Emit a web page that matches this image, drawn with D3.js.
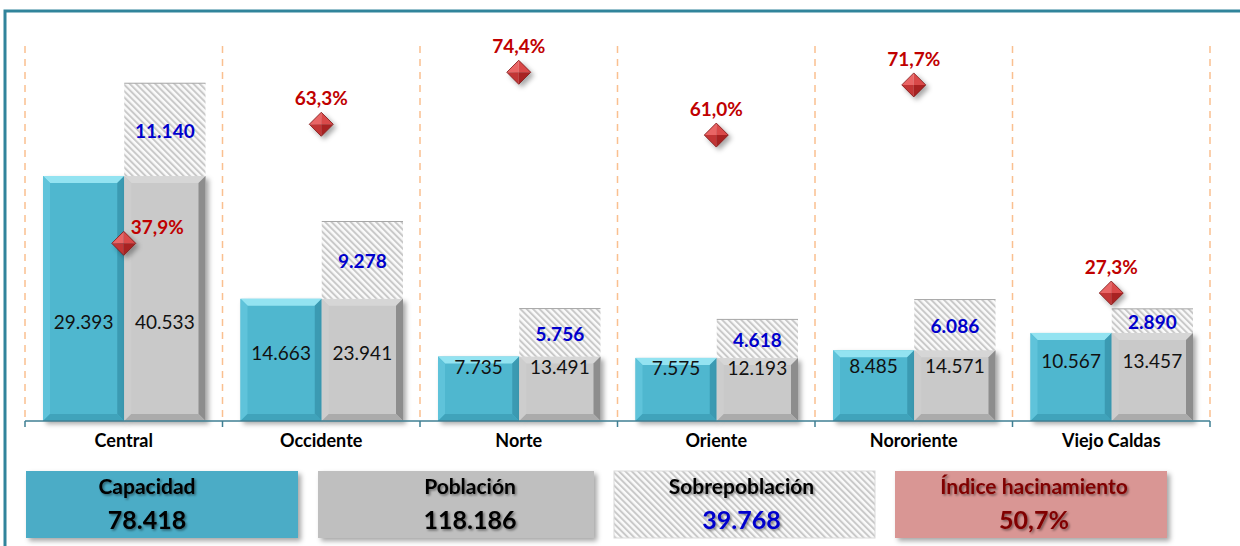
<!DOCTYPE html>
<html>
<head>
<meta charset="utf-8">
<script src="https://cdn.jsdelivr.net/npm/d3@7"></script>
<style>
  html, body { margin: 0; padding: 0; background: #fff; }
  svg { display: block; font-family: Lato, "Open Sans", sans-serif; }
</style>
</head>
<body>
<svg id="chart" width="1240" height="546"></svg>
<script>
var categories     = ['Central', 'Occidente', 'Norte', 'Oriente', 'Nororiente', 'Viejo Caldas'];
var capacidad      = [29393, 14663, 7735, 7575, 8485, 10567];
var poblacion      = [40533, 23941, 13491, 12193, 14571, 13457];
var sobrepoblacion = [11140, 9278, 5756, 4618, 6086, 2890];
var hacinamiento   = [37.9, 63.3, 74.4, 61.0, 71.7, 27.3];

var es = d3.formatLocale({decimal: ',', thousands: '.', grouping: [3], currency: ['', '']});
var fmtN = es.format(',d');
var fmtP = function(v) { return es.format('.1f')(v) + '%'; };

var svg = d3.select('#chart');
var defs = svg.append('defs');

var hatch = defs.append('pattern')
  .attr('id', 'hatch').attr('patternUnits', 'userSpaceOnUse')
  .attr('width', 4.5).attr('height', 4.5)
  .attr('patternTransform', 'rotate(-45)');
hatch.append('rect').attr('width', 4.5).attr('height', 4.5).attr('fill', '#fafafa');
hatch.append('rect').attr('width', 2).attr('height', 4.5).attr('fill', '#c9c9c9');

var sh = defs.append('filter').attr('id', 'shadow')
  .attr('x', '-20%').attr('y', '-20%').attr('width', '150%').attr('height', '150%');
sh.append('feDropShadow').attr('dx', 3).attr('dy', 3).attr('stdDeviation', 2.5)
  .attr('flood-color', '#000').attr('flood-opacity', 0.35);

var tsh = defs.append('filter').attr('id', 'tshadow')
  .attr('x', '-10%').attr('y', '-30%').attr('width', '130%').attr('height', '170%');
tsh.append('feDropShadow').attr('dx', 1.5).attr('dy', 1.5).attr('stdDeviation', 1.2)
  .attr('flood-color', '#000').attr('flood-opacity', 0.45);

// frame
svg.append('path').attr('d', 'M5,546 V11 H1240')
  .attr('fill', 'none').attr('stroke', '#31849b').attr('stroke-width', 3);

var x = d3.scaleBand().domain(categories).range([25, 1210]);
var inner = d3.scaleBand().domain(['cap', 'pob']).range([18, x.bandwidth() - 17]);
var y = d3.scaleLinear().domain([0, 45000]).range([421, 46]);
var y2 = d3.scaleLinear().domain([0, 80]).range([421, 46]);

// dashed separators
var bounds = categories.map(function(c) { return x(c); }).concat([x.range()[1]]);
svg.append('g').selectAll('line').data(bounds).enter().append('line')
  .attr('x1', function(d) { return d; }).attr('x2', function(d) { return d; })
  .attr('y1', y.range()[1]).attr('y2', y(0))
  .attr('stroke', '#fac090').attr('stroke-width', 1.5).attr('stroke-dasharray', '7,6');

function bevelBar(g, bx, by, bw, bh, c) {
  var b = Math.min(7, bh / 2);
  var grp = g.append('g').attr('filter', 'url(#shadow)');
  grp.append('rect').attr('x', bx).attr('y', by).attr('width', bw).attr('height', bh).attr('fill', c.base);
  var pts = [
    [[bx, by], [bx + bw, by], [bx + bw - b, by + b], [bx + b, by + b], c.top],
    [[bx, by], [bx + b, by + b], [bx + b, by + bh - b], [bx, by + bh], c.left],
    [[bx + bw, by], [bx + bw, by + bh], [bx + bw - b, by + bh - b], [bx + bw - b, by + b], c.right],
    [[bx, by + bh], [bx + b, by + bh - b], [bx + bw - b, by + bh - b], [bx + bw, by + bh], c.bottom]
  ];
  pts.forEach(function(p) {
    grp.append('polygon').attr('points', p.slice(0, 4).map(function(q) { return q.join(','); }).join(' '))
      .attr('fill', p[4]);
  });
}

var cyan = {base: '#4fb7cf', top: '#93e3f1', left: '#5ec3da', right: '#3a9ab2', bottom: '#3fa3bb'};
var grey = {base: '#c9c9c9', top: '#d6d6d6', left: '#cdcdcd', right: '#8d8d8d', bottom: '#ababab'};

var bars = svg.append('g');
categories.forEach(function(c, i) {
  var x0 = x(c);
  var bw = inner.bandwidth();
  var cx = x0 + inner('cap'), px = x0 + inner('pob');
  bevelBar(bars, cx, y(capacidad[i]), bw, y(0) - y(capacidad[i]), cyan);
  bevelBar(bars, px, y(capacidad[i]), bw, y(0) - y(capacidad[i]), grey);
  var ht = y(capacidad[i] + sobrepoblacion[i]);
  bars.append('rect').attr('x', px).attr('y', ht).attr('width', bw)
    .attr('height', y(capacidad[i]) - ht).attr('fill', 'url(#hatch)');
  bars.append('line').attr('x1', px).attr('x2', px + bw).attr('y1', ht).attr('y2', ht)
    .attr('stroke', '#a6a6a6').attr('stroke-width', 1);
});

// axis
var axis = svg.append('g');
axis.append('line').attr('x1', 25).attr('x2', 1210).attr('y1', y(0)).attr('y2', y(0))
  .attr('stroke', '#3f7f93').attr('stroke-width', 1.5);
axis.selectAll('.tk').data(bounds).enter().append('line')
  .attr('x1', function(d) { return d; }).attr('x2', function(d) { return d; })
  .attr('y1', y(0)).attr('y2', y(0) + 6).attr('stroke', '#3f7f93').attr('stroke-width', 1.5);
axis.selectAll('text').data(categories).enter().append('text')
  .attr('x', function(d) { return x(d) + x.bandwidth() / 2; }).attr('y', 447)
  .attr('text-anchor', 'middle').attr('font-size', 18).attr('font-weight', 'bold')
  .attr('fill', '#000').text(function(d) { return d; });

// value labels (between bar centre and a shared line near the baseline)
var labels = svg.append('g').attr('font-size', 19).attr('text-anchor', 'middle');
categories.forEach(function(c, i) {
  var x0 = x(c), bw = inner.bandwidth();
  var mid = (y(capacidad[i]) + y(0)) / 2;
  var ly = (mid + y(9000)) / 2 + 7;
  labels.append('text').attr('x', x0 + inner('cap') + bw / 2).attr('y', ly).attr('fill', '#111').text(fmtN(capacidad[i]));
  labels.append('text').attr('x', x0 + inner('pob') + bw / 2).attr('y', ly).attr('fill', '#111').text(fmtN(poblacion[i]));
  var hm = (y(capacidad[i] + sobrepoblacion[i]) + y(capacidad[i])) / 2;
  labels.append('text').attr('x', x0 + inner('pob') + bw / 2).attr('y', hm + 8)
    .attr('fill', '#0000cc').attr('font-weight', 'bold').text(fmtN(sobrepoblacion[i]));
});

// diamonds for índice de hacinamiento
var dm = svg.append('g');
var s = 12;
categories.forEach(function(c, i) {
  var cx = x(c) + x.bandwidth() / 2, cy = y2(hacinamiento[i]);
  var g = dm.append('g').attr('filter', 'url(#shadow)');
  var facets = [
    [[cx - s, cy], [cx, cy - s], [cx, cy], '#e96565'],
    [[cx, cy - s], [cx + s, cy], [cx, cy], '#d94848'],
    [[cx - s, cy], [cx, cy], [cx, cy + s], '#c23434'],
    [[cx, cy], [cx + s, cy], [cx, cy + s], '#a82222']
  ];
  facets.forEach(function(f) {
    g.append('polygon').attr('points', f.slice(0, 3).map(function(q) { return q.join(','); }).join(' '))
      .attr('fill', f[3]);
  });
  g.append('polygon').attr('points', [[cx - s, cy], [cx, cy - s], [cx + s, cy], [cx, cy + s]].map(function(q) { return q.join(','); }).join(' '))
    .attr('fill', 'none').attr('stroke', '#7c1414').attr('stroke-width', 0.8);
  var inside = cy > y(capacidad[i] + sobrepoblacion[i]);
  dm.append('text')
    .attr('x', inside ? cx + 7 : cx).attr('y', inside ? cy - 9 : cy - 19)
    .attr('text-anchor', inside ? 'start' : 'middle')
    .attr('font-size', 19).attr('font-weight', 'bold').attr('fill', '#c00000')
    .text(fmtP(hacinamiento[i]));
});

// summary boxes
var totals = [
  {name: 'Capacidad', value: fmtN(d3.sum(capacidad)), fill: '#4bacc6', vc: '#000', x0: 26, x1: 298, dx: -15},
  {name: 'Población', value: fmtN(d3.sum(poblacion)), fill: '#bfbfbf', vc: '#000', x0: 318, x1: 594, dx: 14},
  {name: 'Sobrepoblación', value: fmtN(d3.sum(sobrepoblacion)), fill: 'url(#hatch)', vc: '#0000cc', x0: 614, x1: 875, dx: -3},
  {name: 'Índice hacinamiento', value: fmtP(d3.sum(sobrepoblacion) / d3.sum(capacidad) * 100), fill: '#d99694', vc: '#800000', x0: 895, x1: 1167, dx: 3}
];
var leg = svg.append('g');
totals.forEach(function(t) {
  leg.append('rect').attr('x', t.x0).attr('y', 471).attr('width', t.x1 - t.x0).attr('height', 67)
    .attr('fill', t.fill).attr('stroke', t.fill === 'url(#hatch)' ? '#d9d9d9' : 'none')
    .attr('filter', t.fill === 'url(#hatch)' ? null : 'url(#shadow)');
  var mx = (t.x0 + t.x1) / 2 + t.dx;
  leg.append('text').attr('x', mx).attr('y', 494).attr('text-anchor', 'middle')
    .attr('font-size', 21).attr('font-weight', 'bold')
    .attr('fill', t.name === 'Índice hacinamiento' ? '#800000' : '#000')
    .attr('filter', 'url(#tshadow)').text(t.name);
  leg.append('text').attr('x', mx).attr('y', 529).attr('text-anchor', 'middle')
    .attr('font-size', 25).attr('font-weight', 'bold').attr('fill', t.vc)
    .attr('filter', 'url(#tshadow)').text(t.value);
});
</script>
</body>
</html>
